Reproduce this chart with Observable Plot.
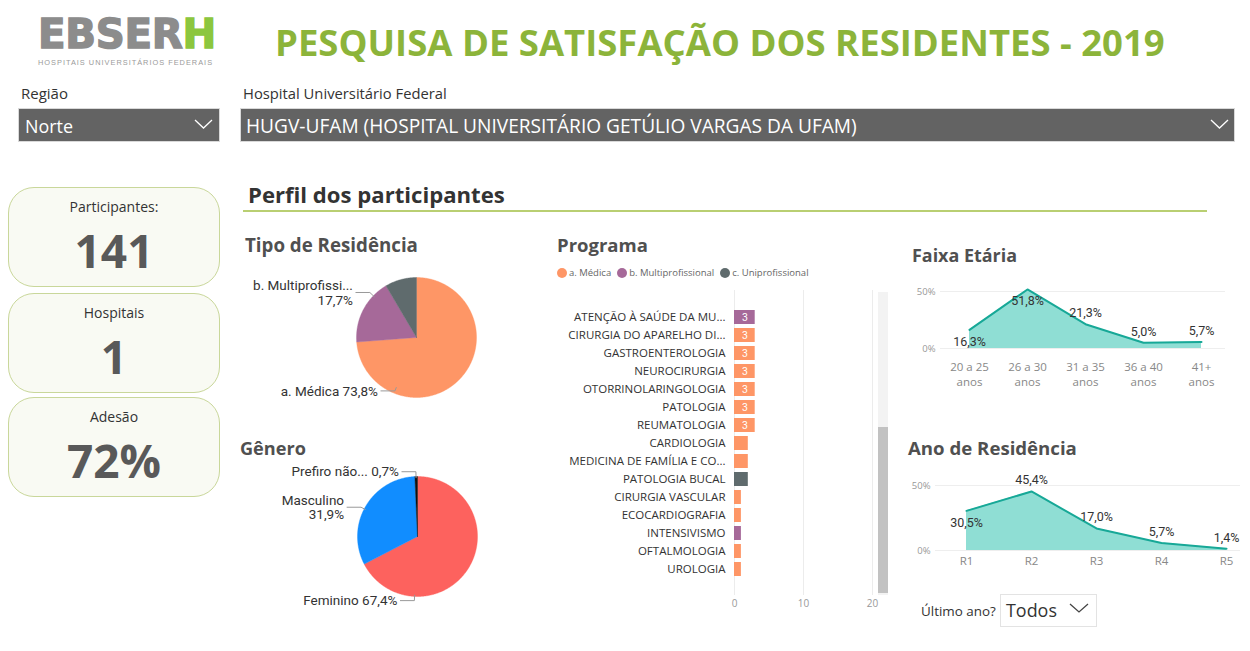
<!DOCTYPE html>
<html><head><meta charset="utf-8">
<script src="https://cdn.jsdelivr.net/npm/d3@7"></script>
<script src="https://cdn.jsdelivr.net/npm/@observablehq/plot@0.6"></script>
<style>
body{margin:0;background:#fff;font-family:"Open Sans",sans-serif;}
#root{position:relative;width:1250px;height:651px;overflow:hidden;background:#fff;}
.t{position:absolute;white-space:nowrap;line-height:1;transform:translateY(-50%);}
.box{position:absolute;box-sizing:border-box;}
.plot{position:absolute;}
.plot svg{display:block;overflow:visible;}
</style></head><body><div id="root"></div>
<script>
// ---------------- DATA ----------------
const headerTitle = "PESQUISA DE SATISFAÇÃO DOS RESIDENTES - 2019";
const regiaoValue = "Norte";
const hospitalValue = "HUGV-UFAM (HOSPITAL UNIVERSITÁRIO GETÚLIO VARGAS DA UFAM)";
const kpiLabels = ["Participantes:", "Hospitais", "Adesão"];
const kpiValues = ["141", "1", "72%"];

const tipoLabels = ["a. Médica", "b. Multiprofissional", "c. Uniprofissional"];
const tipoShort = ["a. Médica", "b. Multiprofissi...", "c. Uniprofissional"];
const tipoValues = [73.8, 17.7, 8.5];
const tipoColors = ["#FE9666", "#A66999", "#5F6B6D"];

const generoLabels = ["Feminino", "Masculino", "Prefiro não informar"];
const generoShort = ["Feminino", "Masculino", "Prefiro não..."];
const generoValues = [67.4, 31.9, 0.7];
const generoColors = ["#FD625E", "#118DFF", "#111111"];

const programaNames = ["ATENÇÃO À SAÚDE DA MU...", "CIRURGIA DO APARELHO DI...", "GASTROENTEROLOGIA", "NEUROCIRURGIA",
  "OTORRINOLARINGOLOGIA", "PATOLOGIA", "REUMATOLOGIA", "CARDIOLOGIA", "MEDICINA DE FAMÍLIA E CO...",
  "PATOLOGIA BUCAL", "CIRURGIA VASCULAR", "ECOCARDIOGRAFIA", "INTENSIVISMO", "OFTALMOLOGIA", "UROLOGIA"];
const programaTipos = ["b. Multiprofissional", "a. Médica", "a. Médica", "a. Médica", "a. Médica", "a. Médica", "a. Médica",
  "a. Médica", "a. Médica", "c. Uniprofissional", "a. Médica", "a. Médica", "b. Multiprofissional", "a. Médica", "a. Médica"];
const programaCounts = [3, 3, 3, 3, 3, 3, 3, 2, 2, 2, 1, 1, 1, 1, 1];
const programaTicks = [0, 10, 20];

const faixaLabels = ["20 a 25 anos", "26 a 30 anos", "31 a 35 anos", "36 a 40 anos", "41+ anos"];
const faixaValues = [16.3, 51.8, 21.3, 5.0, 5.7];
const anoLabels = ["R1", "R2", "R3", "R4", "R5"];
const anoValues = [30.5, 45.4, 17.0, 5.7, 1.4];
const pctTicks = [0, 50];
const ultimoAnoValue = "Todos";

// ---------------- HELPERS ----------------
const root = document.getElementById("root");
function txt(x, cy, s, style, fitW) {
  const d = document.createElement("div");
  d.className = "t"; d.textContent = s;
  d.style.left = x + "px"; d.style.top = cy + "px";
  Object.assign(d.style, style || {});
  root.appendChild(d);
  if (fitW) {
    const w = d.getBoundingClientRect().width;
    const fs = parseFloat(getComputedStyle(d).fontSize);
    d.style.fontSize = (fs * fitW / w) + "px";
  }
  return d;
}
function box(x, y, w, h, style) {
  const d = document.createElement("div");
  d.className = "box";
  Object.assign(d.style, {left: x + "px", top: y + "px", width: w + "px", height: h + "px"}, style || {});
  root.appendChild(d);
  return d;
}
function chevron(x, y, w, h, color) {
  const ns = "http://www.w3.org/2000/svg";
  const s = document.createElementNS(ns, "svg");
  s.setAttribute("width", w + 2); s.setAttribute("height", h + 2);
  s.style.position = "absolute"; s.style.left = (x - 1) + "px"; s.style.top = (y - 1) + "px";
  const p = document.createElementNS(ns, "polyline");
  p.setAttribute("points", `1,1 ${1 + w / 2},${1 + h} ${1 + w},1`);
  p.setAttribute("fill", "none"); p.setAttribute("stroke", color); p.setAttribute("stroke-width", "1.3");
  s.appendChild(p); root.appendChild(s);
}
function place(node, x, y) {
  const d = document.createElement("div");
  d.className = "plot"; d.style.left = x + "px"; d.style.top = y + "px";
  d.appendChild(node); root.appendChild(d);
}
const pct = v => v.toFixed(1).replace(".", ",") + "%";

// ---------------- HEADER ----------------
const logo = txt(38, 34, "", {fontFamily: "DejaVu Sans", fontWeight: "bold", fontSize: "38px", color: "#8c8c8c",
  lineHeight: "0.72", letterSpacing: "-0.3px", WebkitTextStroke: "1.4px #8c8c8c",
  transform: "translateY(-50%) scaleY(1.03)", transformOrigin: "left center"});
logo.innerHTML = 'EBSER<span style="color:#8cc63e;-webkit-text-stroke:1.4px #8cc63e">H</span>';
{ const w = logo.getBoundingClientRect().width; logo.style.fontSize = (38 * 178 / w) + "px"; }
txt(38, 63, "HOSPITAIS UNIVERSITÁRIOS FEDERAIS", {fontFamily: "Liberation Sans", fontSize: "6.5px", color: "#9a9a9a", letterSpacing: "1px", lineHeight: "0.8"}, 180);
txt(275, 42, headerTitle, {fontWeight: "bold", fontSize: "29px", color: "#8cb43a"}, 890);

txt(21, 93, "Região", {fontSize: "13px", color: "#333"}, 47);
txt(243, 93, "Hospital Universitário Federal", {fontSize: "13px", color: "#333"}, 204);
box(18, 108, 202, 34, {background: "#636363", border: "1px solid #d9d9d9"});
txt(25, 127, regiaoValue, {fontSize: "18px", color: "#fff"}, 48);
chevron(195, 120, 17, 8, "#fff");
box(240, 108, 995, 34, {background: "#636363", border: "1px solid #d9d9d9"});
txt(246, 127, hospitalValue, {fontSize: "17px", color: "#fff"}, 611);
chevron(1211, 120, 17, 8, "#fff");

// KPI cards
const cardTops = [187, 293, 397];
kpiLabels.forEach((lab, i) => {
  const top = cardTops[i];
  box(8, top, 212, 100, {border: "1.3px solid #c9d79a", borderRadius: "26px", background: "#f9faf3"});
  txt(8, top + 20, lab, {fontSize: "14px", color: "#333", width: "212px", textAlign: "center"});
  txt(8, top + 63, kpiValues[i], {fontSize: "46px", fontWeight: "bold", color: "#595959", width: "212px", textAlign: "center"});
});

// section titles
txt(248, 194, "Perfil dos participantes", {fontWeight: "bold", fontSize: "19px", color: "#333"}, 257);
box(243, 210, 964, 2, {background: "#b9cf72"});
txt(245, 245, "Tipo de Residência", {fontWeight: "bold", fontSize: "16px", color: "#505050"}, 173);
txt(240, 448, "Gênero", {fontWeight: "bold", fontSize: "16px", color: "#505050"}, 66);
txt(557, 245, "Programa", {fontWeight: "bold", fontSize: "16px", color: "#505050"}, 91);
txt(912, 256, "Faixa Etária", {fontWeight: "bold", fontSize: "16px", color: "#505050"}, 105);
txt(908, 448, "Ano de Residência", {fontWeight: "bold", fontSize: "16px", color: "#505050"}, 169);

// ---------------- PIES ----------------
function pie({labels, short, values, colors, layout, width, height, cx, cy, r}) {
  const arcs = d3.pie().sort(null)(values);
  const pts = [];
  arcs.forEach((a, i) => {
    const n = Math.max(2, Math.ceil((a.endAngle - a.startAngle) / 0.01));
    pts.push({k: labels[i], x: 0, y: 0});
    for (let j = 0; j <= n; j++) {
      const t = a.startAngle + (a.endAngle - a.startAngle) * j / n;
      pts.push({k: labels[i], x: Math.sin(t), y: Math.cos(t)});
    }
    pts.push({k: labels[i], x: 0, y: 0});
  });
  const leaders = [], texts = [];
  layout.forEach(L => {
    const t = L.angle * Math.PI / 180;
    const P = {x: L.r0 * Math.sin(t), y: L.r0 * Math.cos(t)};
    const E = {x: L.r1 * Math.sin(t), y: L.r1 * Math.cos(t)};
    const H = {x: E.x - 14 / r, y: E.y};
    [P, E, H].forEach(p => leaders.push({k: L.i, ...p}));
    const s = L.lines === 2 ? short[L.i] + "\n" + pct(values[L.i]) : short[L.i] + " " + pct(values[L.i]);
    texts.push({x: H.x - 3 / r, y: H.y, s});
  });
  return Plot.plot({
    width, height, margin: 0,
    x: {domain: [-cx / r, (width - cx) / r], axis: null},
    y: {domain: [-(height - cy) / r, cy / r], axis: null},
    color: {domain: labels, range: colors},
    marks: [
      Plot.line(pts, {x: "x", y: "y", z: "k", fill: "k", stroke: "k", strokeWidth: 0.4}),
      Plot.line(leaders, {x: "x", y: "y", z: "k", stroke: "#999", strokeWidth: 1}),
      Plot.text(texts, {x: "x", y: "y", text: "s", textAnchor: "end", lineAnchor: "middle", lineHeight: 1.1,
        fontSize: 13.5, fontFamily: "Roboto", fill: "#333"})
    ]
  });
}
place(pie({labels: tipoLabels, short: tipoShort, values: tipoValues, colors: tipoColors,
  layout: [{i: 1, angle: 314, r0: 0.98, r1: 1.08, lines: 2}, {i: 0, angle: 202, r0: 0.9, r1: 0.96, lines: 1}],
  width: 300, height: 160, cx: 176, cy: 75, r: 60}), 240, 262);
place(pie({labels: generoLabels, short: generoShort, values: generoValues, colors: generoColors,
  layout: [{i: 2, angle: 358.6, r0: 0.98, r1: 1.08, lines: 1}, {i: 1, angle: 297.4, r0: 0.98, r1: 1.06, lines: 2},
           {i: 0, angle: 182.8, r0: 0.98, r1: 1.07, lines: 1}],
  width: 300, height: 170, cx: 177, cy: 70, r: 60}), 240, 466);

// ---------------- PROGRAMA (bars) ----------------
{
  let lx = 557;
  tipoLabels.forEach((lab, i) => {
    box(lx, 268, 10, 10, {background: tipoColors[i], borderRadius: "50%"});
    const t = txt(lx + 12, 273, lab, {fontSize: "9.5px", color: "#666"});
    lx += 12 + t.getBoundingClientRect().width + 6;
  });
}
const progData = programaNames.map((n, i) => ({name: n, tipo: programaTipos[i], count: programaCounts[i]}));
place(Plot.plot({
  width: 330, height: 330, marginLeft: 179, marginRight: 13, marginTop: 5, marginBottom: 20,
  x: {domain: [0, 20], range: [179, 317]},
  y: {domain: programaNames, range: [21.6, 295.4], paddingInner: 0.2, paddingOuter: 0},
  color: {domain: tipoLabels, range: tipoColors},
  style: {fontFamily: "Open Sans"},
  marks: [
    Plot.ruleX(programaTicks, {stroke: "#ececec"}),
    Plot.barX(progData, {x: "count", y: "name", fill: "tipo"}),
    Plot.text(progData.filter(d => d.count >= 3), {x: d => d.count / 2, y: "name", text: d => String(d.count),
      fill: "white", fontSize: 10.5, fontFamily: "Roboto"}),
    Plot.axisY({tickSize: 0, tickPadding: 9, fontSize: 11.5, fill: "#333", label: null}),
    Plot.axisX({ticks: programaTicks, tickSize: 0, tickPadding: 4, fontSize: 10, fill: "#999", label: null})
  ]
}), 555, 285);
// scrollbar
box(878, 292, 10, 303, {background: "#f3f3f3"});
box(878, 427, 10, 166, {background: "#c2c2c2"});

// ---------------- AREA CHARTS ----------------
function areaChart({labels, values, pos, width, height, marginLeft, marginRight, xRange, yRange, tickPadding, fmtX, lineHeight}) {
  const data = labels.map((l, i) => ({l, v: values[i], pos: pos[i]}));
  return Plot.plot({
    width, height, marginLeft, marginRight, marginTop: 0, marginBottom: height - yRange[0],
    x: {domain: labels, type: "point", range: xRange, padding: 0},
    y: {domain: [0, 50], range: yRange},
    style: {fontFamily: "Open Sans"},
    marks: [
      Plot.ruleY(pctTicks, {stroke: "#eeeeee"}),
      Plot.areaY(data, {x: "l", y: "v", fill: "#8fded4"}),
      Plot.lineY(data, {x: "l", y: "v", stroke: "#17a897", strokeWidth: 2}),
      Plot.text(data, {x: "l", y: "v", text: d => pct(d.v), fontSize: 12.5, fontFamily: "Roboto", fill: "#333",
        filter: d => d.pos === "above", dy: -11}),
      Plot.text(data, {x: "l", y: "v", text: d => pct(d.v), fontSize: 12.5, fontFamily: "Roboto", fill: "#333",
        filter: d => d.pos === "below", dy: 12}),
      Plot.axisY({ticks: pctTicks, tickFormat: d => d + "%", tickSize: 0, tickPadding: 5, fontSize: 9.5, fill: "#999", label: null}),
      Plot.axisX({tickSize: 0, tickPadding, tickFormat: fmtX, fontSize: 11.5, fill: "#888", lineHeight, label: null})
    ]
  });
}
place(areaChart({labels: faixaLabels, values: faixaValues, pos: ["below", "below", "above", "above", "above"],
  width: 335, height: 115, marginLeft: 35, marginRight: 15, xRange: [63, 296], yRange: [68, 11],
  tickPadding: 12, fmtX: d => d.replace(" anos", "\nanos"), lineHeight: 1.3}), 905, 280);
place(areaChart({labels: anoLabels, values: anoValues, pos: ["below", "above", "above", "above", "above"],
  width: 345, height: 105, marginLeft: 30, marginRight: 10, xRange: [61, 321], yRange: [80, 15],
  tickPadding: 6, fmtX: d => d, lineHeight: 1}), 905, 470);

// Último ano
txt(921, 612, "Último ano?", {fontSize: "13px", color: "#333"}, 75);
box(1000, 594, 97, 33, {border: "1px solid #e3e3e3", background: "#fff"});
txt(1006, 611, ultimoAnoValue, {fontSize: "19px", color: "#333"}, 51);
chevron(1070, 604, 18, 8, "#444");
</script></body></html>
